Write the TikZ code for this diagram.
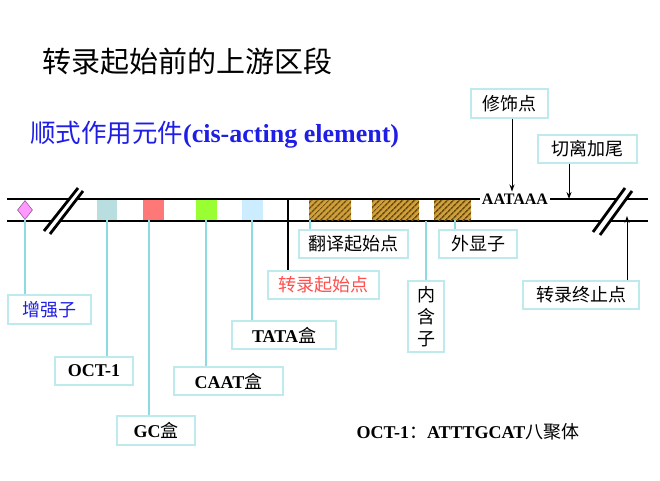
\documentclass[tikz,border=0pt]{standalone}
\usepackage{fontspec}
\setmainfont{Liberation Serif}
\newfontfamily\cjk{Noto Sans CJK SC}
\usetikzlibrary{shapes.geometric,patterns.meta,arrows.meta}
\definecolor{connc}{RGB}{140,218,226}
\definecolor{boxc}{RGB}{190,234,238}
\definecolor{blueT}{RGB}{30,30,230}
\definecolor{redT}{RGB}{255,80,80}
\definecolor{eA}{RGB}{184,222,224}
\definecolor{eB}{RGB}{255,120,120}
\definecolor{eC}{RGB}{153,255,51}
\definecolor{eD}{RGB}{204,236,255}
\definecolor{dfill}{RGB}{255,153,255}
\definecolor{ddraw}{RGB}{150,90,150}
\definecolor{hatchbg}{RGB}{205,160,60}
\definecolor{hatchfg}{RGB}{110,75,15}
\begin{document}
\begin{tikzpicture}[x=1pt,y=-1pt,
  lbl/.style={draw=boxc, line width=1.2pt, inner sep=0pt, fill=white,
    font=\fontsize{18}{22}\selectfont\cjk},
  conn/.style={draw=connc, line width=1.5pt},
  elem/.style={minimum width=#1, minimum height=20pt, inner sep=0pt},
  hatchbox/.style={minimum width=#1, minimum height=20pt, inner sep=0pt,
    fill=hatchbg, postaction={pattern={Lines[angle=45,distance=4pt,line width=1.6pt]}, pattern color=hatchfg}},
  dna/.style={line width=2.6pt, black},
  arr/.style={-{Stealth[length=7pt,width=5pt]}, line width=1pt, black}
]
\useasboundingbox (0,0) rectangle (660,480);

% titles
\node[anchor=west, inner sep=0pt, font=\fontsize{29}{32}\selectfont\cjk] (title) at (42,62) {转录起始前的上游区段};
\node[anchor=west, inner sep=0pt, text=blueT] (sub) at (30,135)
  {{\fontsize{25.5}{28}\selectfont\cjk 顺式作用元件}{\fontsize{26}{28}\selectfont\bfseries(cis-acting element)}};

% DNA lines
\coordinate (topL) at (7,199);
\coordinate (topR) at (648,199);
\coordinate (botL) at (7,221);
\coordinate (botR) at (648,221);
\draw[dna] (topL) -- (topR);
\draw[dna] (botL) -- (botR);

% breaks
\draw[white, line width=7pt] (47,232.5) -- (80.5,189.5);
\draw[line width=2.8pt] (44,231) -- (78,188);
\draw[line width=2.8pt] (50,234) -- (83,191);
\draw[white, line width=7pt] (596.5,233.5) -- (628.5,189.5);
\draw[line width=2.8pt] (593,232) -- (625,188);
\draw[line width=2.8pt] (600,235) -- (632,191);

% elements
\node[diamond, draw=ddraw, fill=dfill, line width=0.6pt, minimum width=15pt, minimum height=19pt, inner sep=0pt] (dia) at (25,210) {};
\node[elem=20pt, fill=eA] (b1) at (107,210) {};
\node[elem=21pt, fill=eB] (b2) at (153.5,210) {};
\node[elem=21pt, fill=eC] (b3) at (206,210) {};
\node[elem=21pt, fill=eD] (b4) at (252,210) {};
\node[hatchbox=42pt] (h1) at (330,210) {};
\node[hatchbox=47pt] (h2) at (395.5,210) {};
\node[hatchbox=37pt] (h3) at (452.5,210) {};
\node[fill=white, inner xsep=1.5pt, inner ysep=1pt, font=\fontsize{16}{17}\selectfont\bfseries] (aat) at (515,199) {AATAAA};

% labels
\node[lbl, minimum width=83pt, minimum height=29pt, text=blueT] (enh) at (49.5,309.5) {增强子};
\node[lbl, minimum width=78pt, minimum height=28pt] (oct) at (94,371) {\rmfamily\bfseries OCT-1};
\node[lbl, minimum width=78pt, minimum height=29pt] (gc) at (156,430.5) {{\rmfamily\bfseries GC}盒};
\node[lbl, minimum width=109pt, minimum height=28pt] (caat) at (228.5,381) {{\rmfamily\bfseries CAAT}盒};
\node[lbl, minimum width=104pt, minimum height=28pt] (tata) at (284,335) {{\rmfamily\bfseries TATA}盒};
\node[lbl, minimum width=111pt, minimum height=28pt, text=redT] (tss) at (323.5,285) {转录起始点};
\node[lbl, minimum width=109pt, minimum height=28pt] (tls) at (353.5,244) {翻译起始点};
\node[lbl, minimum width=78pt, minimum height=28pt] (exon) at (478,244) {外显子};
\node[lbl, minimum width=36pt, minimum height=71pt, align=center] (intron) at (426,316.5) {内\\含\\子};
\node[lbl, minimum width=116pt, minimum height=28pt] (term) at (581,295) {转录终止点};
\node[lbl, minimum width=77pt, minimum height=29pt] (mod) at (509.5,103.5) {修饰点};
\node[lbl, minimum width=99pt, minimum height=28pt] (cut) at (587.5,149) {切离加尾};

% connectors
\draw[conn] (dia.south) -- (dia.south |- enh.north);
\draw[conn] (b1.south) -- (b1.south |- oct.north);
\draw[conn] ([xshift=6pt]b2.south west) -- ([xshift=6pt]b2.south west |- gc.north);
\draw[conn] (b3.south) -- (b3.south |- caat.north);
\draw[conn] (b4.south) -- (b4.south |- tata.north);
\draw[conn] ([xshift=1pt]h1.south west) -- ([xshift=1pt]h1.south west |- tls.north);
\draw[conn] ([xshift=2.5pt]h3.south) -- ([xshift=2.5pt]h3.south |- exon.north);
\draw[conn] (intron.north |- botL) -- (intron.north);
\coordinate (vt) at (288,199);
\draw[line width=1.8pt] (vt) -- (vt |- tss.north);

% arrows
\draw[arr] ([xshift=2.5pt]mod.south) -- ([xshift=2.5pt,yshift=1pt]mod.south |- aat.north);
\draw[arr] ([xshift=-18.5pt]cut.south) -- ([xshift=-18.5pt]cut.south |- topL);
\draw[arr] ([xshift=46pt]term.north) -- ([xshift=46pt,yshift=5pt]term.north |- botL);

% note
\node[inner sep=0pt, font=\fontsize{18}{20}\selectfont\bfseries] (note) at (468,432) {OCT-1{\cjk\mdseries ：}ATTTGCAT{\cjk\mdseries 八聚体}};
\end{tikzpicture}
\end{document}
